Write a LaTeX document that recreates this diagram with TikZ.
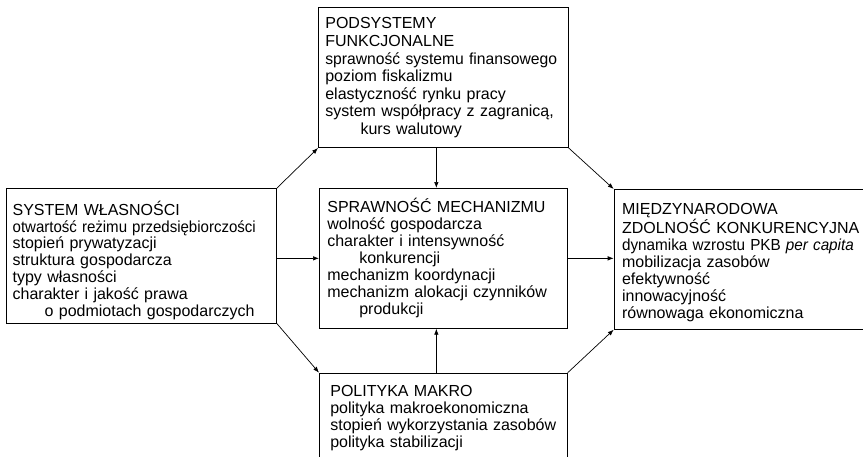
\documentclass[tikz,border=0pt]{standalone}
\usepackage{fontspec}
\setmainfont{Liberation Sans}
\usepackage{graphicx}
\usepackage{tikz}
\usetikzlibrary{arrows.meta,positioning}
\newcommand{\squeeze}[2]{\scalebox{#1}[1]{#2}}

\begin{document}
\begin{tikzpicture}[
  box/.style={draw,line width=0.7pt,inner ysep=0pt,align=left,font=\fontsize{16pt}{17pt}\selectfont},
  arrow/.style={-{Latex[length=6pt,width=4.5pt]},line width=0.7pt}
]
\useasboundingbox (0,0) rectangle (863pt,-456pt);
\clip (0,0) rectangle (863pt,-456pt);
\node[box,anchor=north west,inner xsep=8pt,text width=232pt,text height=24.3pt,text depth=115.7pt] (mech) at (319pt,-188pt)
  {SPRAWNOŚĆ MECHANIZMU\\wolność gospodarcza\\charakter i intensywność\\\hspace*{2em}konkurencji\\mechanizm koordynacji\\mechanizm alokacji czynników\\\hspace*{2em}produkcji};
\node[box,above=40pt of mech,inner xsep=7pt,text width=236pt,text height=21.3pt,text depth=118.7pt,font=\fontsize{16pt}{17.6pt}\selectfont] (fun)
  {PODSYSTEMY\\FUNKCJONALNE\\\squeeze{0.98}{sprawność systemu finansowego}\\poziom fiskalizmu\\elastyczność rynku pracy\\system współpracy z zagranicą,\\\hspace*{2.2em}kurs walutowy};
\node[box,below=44pt of mech,inner xsep=11pt,text width=226pt,text height=23pt,text depth=100pt] (mac)
  {POLITYKA MAKRO\\polityka makroekonomiczna\\stopień wykorzystania zasobów\\polityka stabilizacji};
\node[box,left=42pt of mech.north west,anchor=north east,inner xsep=6pt,text width=258pt,text height=27pt,text depth=108pt,font=\fontsize{16pt}{16.8pt}\selectfont] (own)
  {SYSTEM WŁASNOŚCI\\\squeeze{0.94}{otwartość reżimu przedsiębiorczości}\\stopień prywatyzacji\\struktura gospodarcza\\typy własności\\charakter i jakość prawa\\\hspace*{2em}o podmiotach gospodarczych};
\node[box,right=46pt of mech.north east,anchor=north west,yshift=-1pt,inner xsep=8pt,text width=260pt,text height=25.3pt,text depth=114.7pt] (comp)
  {MIĘDZYNARODOWA\\ZDOLNOŚĆ KONKURENCYJNA\\\squeeze{0.955}{dynamika wzrostu PKB \textit{per capita}}\\mobilizacja zasobów\\efektywność\\innowacyjność\\równowaga ekonomiczna};
\draw[arrow] (own.north east) -- (fun.south west);
\draw[arrow] (own.east |- mech.west) -- (mech.west);
\draw[arrow] (own.south east) -- (mac.north west);
\draw[arrow] ([xshift=-7pt]fun.south) -- ([xshift=-7pt]mech.north);
\draw[arrow] ([xshift=-7pt]mac.north) -- ([xshift=-7pt]mech.south);
\draw[arrow] (fun.south east) -- (comp.north west);
\draw[arrow] (mech.east) -- (comp.west |- mech.east);
\draw[arrow] (mac.north east) -- (comp.south west);
\end{tikzpicture}
\end{document}
